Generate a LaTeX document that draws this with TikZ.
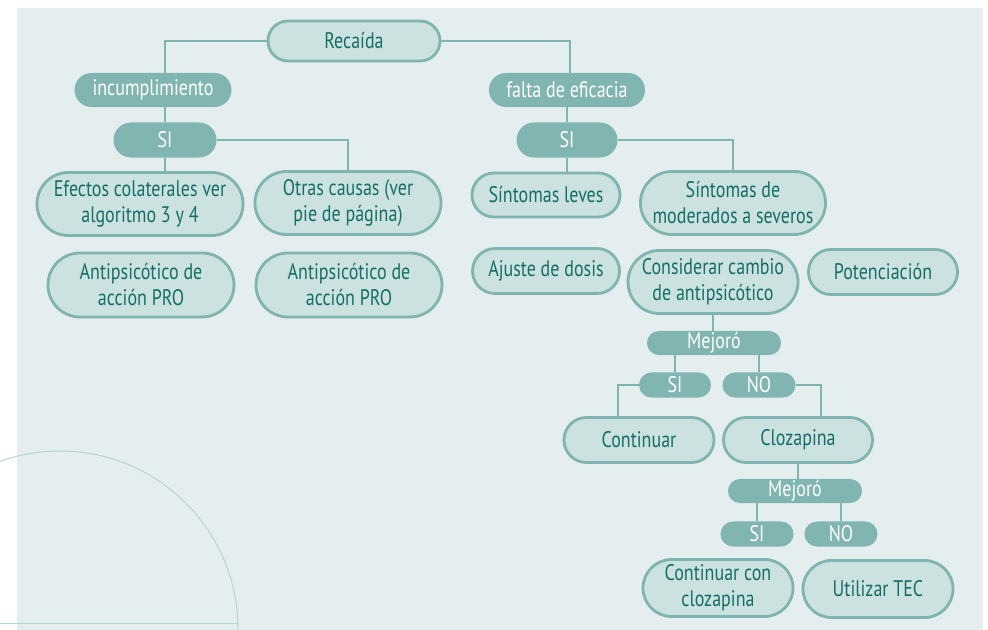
\documentclass[tikz,border=0pt]{standalone}
\usepackage{fontspec}
\setmainfont{PT Sans}[FakeStretch=0.8]
\usepackage{tikz}
\usetikzlibrary{shapes.misc, positioning}
\definecolor{panelbg}{HTML}{E4EEEF}
\definecolor{boxfill}{HTML}{CCE2E0}
\definecolor{boxline}{HTML}{7FB4B0}
\definecolor{tagfill}{HTML}{80B5B2}
\definecolor{boxtext}{HTML}{156D67}
\definecolor{arcline}{HTML}{B3D5D2}
\tikzset{
box/.style={rounded rectangle, draw=boxline, line width=2pt, fill=boxfill, text=boxtext, inner sep=0pt, align=center}, % light boxes
tag/.style={rounded rectangle, fill=tagfill, text=white, inner sep=0pt, align=center}, % dark labels
link/.style={draw=boxline, line width=1.5pt}, % the joining lines
every node/.style={font=\fontsize{16}{18.5}\selectfont},
}
\begin{document}
\begin{tikzpicture}[x=0.025cm, y=-0.025cm]
    \useasboundingbox (0,0) rectangle (988,630);
    \fill[panelbg] (17,8) rectangle (983,630);
    \begin{scope}
      \clip (0,0) rectangle (988,630);
      \draw[arcline, line width=0.7pt] (60,629) circle [radius=178];
      \draw[arcline, line width=0.7pt] (0,623) -- (238,623);
    \end{scope}

    \node[box, minimum width=4.3cm, minimum height=1cm] (rec) at (354,41) {Recaída};

    \node[tag, minimum width=3.925cm, minimum height=0.85cm] (inc) at (153,90) {incumplimiento};
    \node[tag, minimum width=2.575cm, minimum height=0.875cm] (siA) at (165,140) {SI};
    \node[box, minimum width=5.15cm, minimum height=1.575cm] (efe) at (140,204) {Efectos colaterales ver\\algoritmo 3 y 4};
    \node[box, minimum width=4.65cm, minimum height=1.575cm] (otr) at (348,203) {Otras causas (ver\\pie de página)};
    \node[box, minimum width=4.65cm, minimum height=1.6cm] (antA) at (141,285) {Antipsicótico de\\acción PRO};
    \node[box, minimum width=4.65cm, minimum height=1.6cm] (antB) at (349,285) {Antipsicótico de\\acción PRO};

    \node[tag, minimum width=3.9cm, minimum height=0.85cm] (fal) at (567,90) {falta de eficacia};
    \node[tag, minimum width=2.525cm, minimum height=0.875cm] (siB) at (567,140) {SI};
    \node[box, minimum width=3.7cm, minimum height=1.1cm] (lev) at (546,195) {Síntomas leves};
    \node[box, minimum width=4.625cm, minimum height=1.575cm] (mod) at (733,203) {Síntomas de\\moderados a severos};
    \node[box, minimum width=3.675cm, minimum height=1.125cm] (aju) at (546,271) {Ajuste de dosis};
    \node[box, minimum width=4.25cm, minimum height=1.575cm] (cons) at (713,282) {Considerar cambio\\de antipsicótico};
    \node[box, minimum width=3.725cm, minimum height=1.125cm] (pot) at (883,272) {Potenciación};

    \node[tag, minimum width=3.35cm, minimum height=0.6cm] (mejA) at (714,343) {Mejoró};
    \node[tag, minimum width=1.8cm, minimum height=0.625cm] (siC) at (675,385) {SI};
    \node[tag, minimum width=1.825cm, minimum height=0.625cm] (noC) at (759,385) {NO};
    \node[box, minimum width=3.75cm, minimum height=1.125cm] (cont) at (639,440) {Continuar};
    \node[box, minimum width=3.725cm, minimum height=1.125cm] (cloz) at (798,440) {Clozapina};

    \node[tag, minimum width=3.35cm, minimum height=0.6cm] (mejB) at (795,491) {Mejoró};
    \node[tag, minimum width=1.825cm, minimum height=0.625cm] (siD) at (757,534) {SI};
    \node[tag, minimum width=1.825cm, minimum height=0.625cm] (noD) at (841,534) {NO};
    \node[box, minimum width=3.75cm, minimum height=1.425cm] (ccl) at (718,588) {Continuar con\\clozapina};
    \node[box, minimum width=3.75cm, minimum height=1.425cm] (tec) at (878,589) {Utilizar TEC};

    \draw[link]
    (rec.west) -| (inc.north -| siA.north)
    (inc.south -| siA.north) -- (siA.north)
    (siA.south) -- (siA.south |- efe.north)
    (siA.east) -| (otr.north);

    \draw[link]
    (rec.east) -| ([xshift=0.075cm]fal.north)
    (fal.south) -- (siB.north)
    (siB.south) -- (siB.south |- lev.north)
    (siB.east) -| (mod.north);

    \draw[link]
    (cons.south) -- (cons.south |- mejA.north)
    (siC.north |- mejA.south) -- (siC.north)
    (noC.north |- mejA.south) -- (noC.north)
    (siC.west) -| ([xshift=-0.525cm]cont.north)
    (noC.east) -| ([xshift=0.575cm]cloz.north);

    \draw[link]
    (cloz.south) -- (cloz.south |- mejB.north)
    (siD.north |- mejB.south) -- (siD.north)
    (noD.north |- mejB.south) -- (noD.north);
  \end{tikzpicture}
\end{document}
